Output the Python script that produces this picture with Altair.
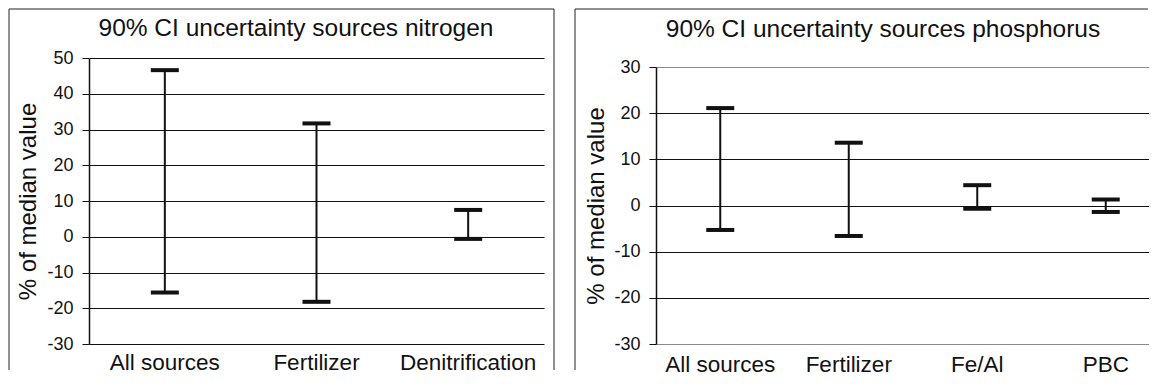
import altair as alt
import pandas as pd

FONT = "Liberation Sans"

# Nitrogen panel
n_cats = ["All sources", "Fertilizer", "Denitrification"]
n_low = [-15.6, -18.2, -0.6]
n_high = [46.6, 31.7, 7.5]
n_ticks = [-30, -20, -10, 0, 10, 20, 30, 40, 50]
n_title = "90% CI uncertainty sources  nitrogen"

# Phosphorus panel
p_cats = ["All sources", "Fertilizer", "Fe/Al", "PBC"]
p_low = [-5.3, -6.6, -0.7, -1.4]
p_high = [21.1, 13.6, 4.4, 1.3]
p_ticks = [-30, -20, -10, 0, 10, 20, 30]
p_title = "90% CI uncertainty sources phosphorus"

y_title = "% of median value"
INK = "#111"


def frame_line(x1, x2, y1, y2):
    return alt.Chart(pd.DataFrame({"f": [0]})).mark_rule(
        color="#222", strokeWidth=1, strokeCap="butt"
    ).encode(x=alt.value(x1), x2=alt.value(x2), y=alt.value(y1), y2=alt.value(y2))


def panel(cats, low, high, ticks, title, w, h, xrange, ytop, frames, title_pos,
          ytitle_x, lab_pad, grid_color):
    df = pd.DataFrame({"cat": cats, "low": low, "high": high})
    x = alt.X(
        "cat:N",
        sort=cats,
        scale=alt.Scale(paddingInner=0, paddingOuter=0, range=[0, xrange]),
        axis=None,
    )
    yscale = alt.Scale(domain=[ticks[0], ticks[-1]], nice=False, zero=False,
                       range=[h, ytop])
    yaxis = alt.Axis(
        values=ticks, title=y_title, titleFont=FONT, titleFontSize=24,
        titleFontWeight="normal", titleColor=INK, titleX=ytitle_x,
        titleBaseline="middle", labelOverlap=False,
        labelExpr="'' + datum.value",
        labelFont=FONT, labelFontSize=18, labelColor=INK, labelPadding=9,
        tickSize=7, tickColor=INK, domainColor=INK, domainWidth=1.5,
        grid=True, gridColor=grid_color, gridWidth=1, gridOpacity=1,
    )
    base = alt.Chart(df)
    rule = base.mark_rule(strokeWidth=2, color=INK).encode(
        x=x, y=alt.Y("low:Q", scale=yscale, axis=yaxis), y2="high:Q"
    )
    cap_lo = base.mark_tick(thickness=4, size=28, color=INK, opacity=1).encode(
        x=x, y=alt.Y("low:Q", scale=yscale, axis=yaxis)
    )
    cap_hi = base.mark_tick(thickness=4, size=28, color=INK, opacity=1).encode(
        x=x, y=alt.Y("high:Q", scale=yscale, axis=yaxis)
    )
    # category labels (drawn through the band scale)
    labels = base.mark_text(
        font=FONT, fontSize=22.5, color=INK, align="center", baseline="top"
    ).encode(x=x, y=alt.value(h + lab_pad), text="cat:N")
    ttl = alt.Chart(pd.DataFrame({"t": [title]})).mark_text(
        font=FONT, fontSize=24.5, color=INK, align="center", baseline="alphabetic"
    ).encode(x=alt.value(title_pos[0]), y=alt.value(title_pos[1]), text="t:N")
    layers = [frame_line(*f) for f in frames] + [ttl, rule, cap_lo, cap_hi, labels]
    return alt.layer(*layers).properties(width=w, height=h)


left = panel(
    n_cats, n_low, n_high, n_ticks, n_title, 455, 286, 455, 0,
    frames=[(-80, -80, -49, 312), (465, 465, -49, 312), (-80, 465, -49, -49)],
    title_pos=(207, -22), ytitle_x=-61, lab_pad=8,
    grid_color=INK,
)
right = panel(
    p_cats, p_low, p_high, p_ticks, p_title, 492, 286, 514, 9,
    frames=[(-81, -81, -49, 312), (-81, 492, -49, -49)],
    title_pos=(227, -21.5), ytitle_x=-59.5, lab_pad=10,
    grid_color={"condition": {"test": "datum.value == 30 || datum.value == -30",
                              "value": "#8a8a8a"}, "value": INK},
)

chart = alt.hconcat(left, right, spacing=19, padding=0).configure_view(stroke=None)
chart.save("out.html", embed_options={"renderer": "svg", "actions": False})
